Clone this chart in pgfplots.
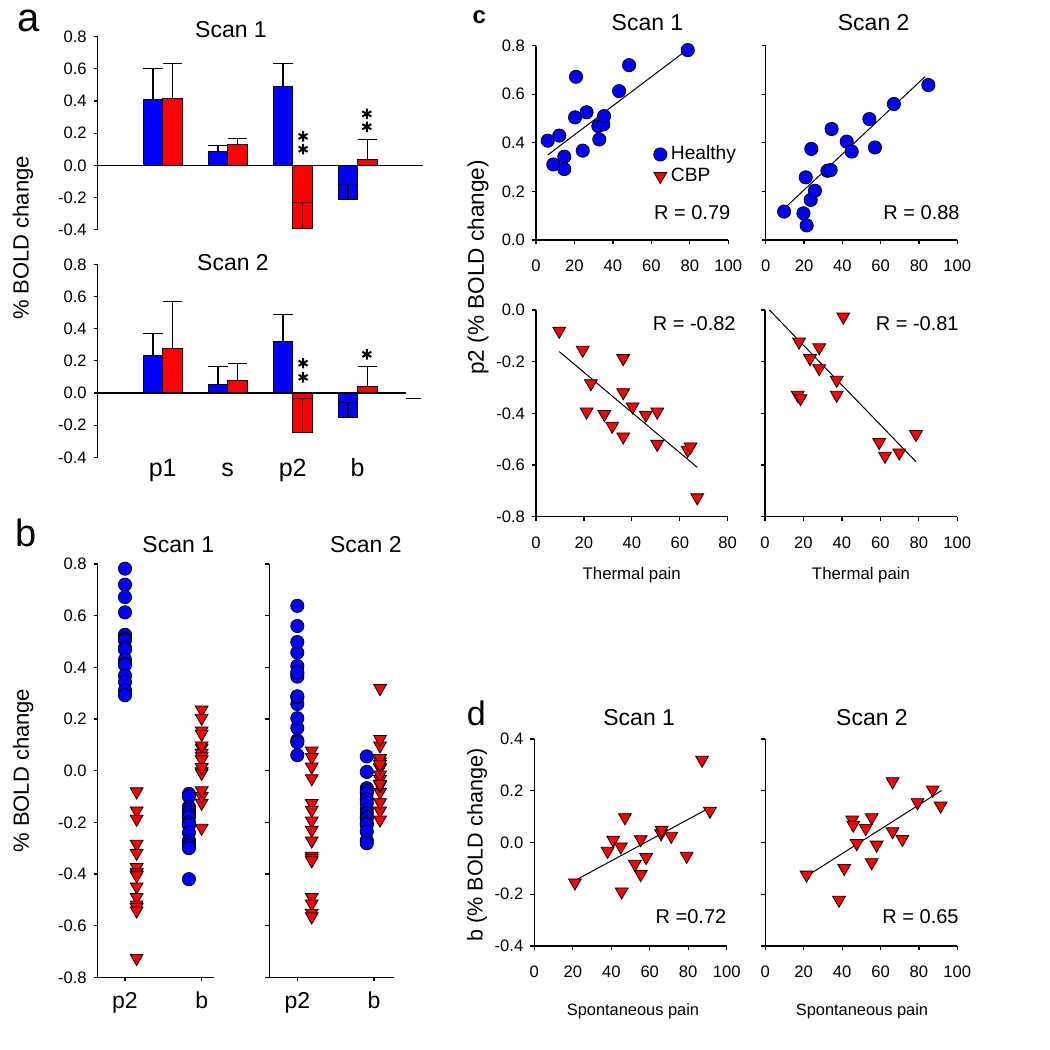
\documentclass[border=0pt]{standalone}
\usepackage{pgfplots}
\pgfplotsset{compat=1.18}
\usepackage{fontspec}
\setmainfont{Liberation Sans}
\definecolor{cblue}{RGB}{0,0,255}
\definecolor{cred}{RGB}{255,0,0}
\newcommand{\fs}[1]{\fontsize{#1}{#1}\selectfont}
\pgfkeys{/pgf/number format/assume math mode=true}
\pgfplotsset{
  base/.style={
    scale only axis, clip=false, anchor=south west,
    axis lines=left, axis line style={-, line width=0.6pt, black},
    tick align=outside, major tick length=2pt,
    major tick style={line width=0.6pt, black},
    tick label style={font=\fs{8.3}},
    /pgf/number format/assume math mode=true,
    yticklabel={\pgfmathprintnumber[fixed,fixed zerofill,precision=1]{\tick}},
    xticklabel style={anchor=base, yshift=-14pt},
  },
  hmark/.style={only marks, mark=*, mark size=3.3pt, mark options={fill=cblue, draw=black, line width=0.4pt}},
  cmark/.style={only marks, mark=triangle*, mark size=3.7pt, mark options={fill=cred, draw=black, line width=0.4pt, rotate=180}},
  regline/.style={black, line width=0.5pt, no marks},
  bar/.style={ybar, bar width=0.3, bar shift=0pt, fill=#1, draw=black, line width=0.4pt,
    error bars/.cd, y dir=plus, y explicit, error mark=|, error mark options={black, line width=0.6pt, mark size=4.9pt}, error bar style={black, line width=0.6pt}},
  stars/.style={only marks, mark=asterisk, mark size=2.6pt, mark options={black, line width=1pt}},
}
\begin{document}
\begin{tikzpicture}
\path[use as bounding box] (0pt,0pt) rectangle (525pt,525pt);

% ===================== Panel a, Scan 1 =====================
\begin{axis}[base, at={(48.85pt,410.2pt)}, width=162.5pt, height=96.45pt,
  xmin=0, xmax=5, ymin=-0.4, ymax=0.8, ytick={-0.4,-0.2,0,0.2,0.4,0.6,0.8},
  xtick=\empty, x axis line style={draw=none}]
\addplot[bar=cblue] coordinates {(0.85,0.41) +- (0,0.19) (1.85,0.085) +- (0,0.04) (2.85,0.49) +- (0,0.144) (3.85,-0.21) +- (0,0.092)};
\addplot[bar=cred] coordinates {(1.15,0.417) +- (0,0.217) (2.15,0.13) +- (0,0.038) (3.15,-0.394) +- (0,0.164) (4.15,0.037) +- (0,0.125)};
\addplot[black, line width=0.6pt, no marks] coordinates {(0,0) (5,0)};
\addplot[stars] coordinates {(3.16,0.18) (3.16,0.10) (4.14,0.32) (4.14,0.24)};
\end{axis}

% ===================== Panel a, Scan 2 =====================
\begin{axis}[base, at={(48.85pt,296.35pt)}, width=162.5pt, height=96.5pt,
  xmin=0, xmax=5, ymin=-0.4, ymax=0.8, ytick={-0.4,-0.2,0,0.2,0.4,0.6,0.8},
  xtick={1,2,3,4}, xticklabels={p1,s,p2,b}, major x tick style={draw=none},
  xticklabel style={font=\fs{12.5}, yshift=6.2pt},
  x axis line style={draw=none}]
\addplot[bar=cblue] coordinates {(0.85,0.233) +- (0,0.137) (1.85,0.052) +- (0,0.112) (2.85,0.32) +- (0,0.17) (3.85,-0.152) +- (0,0.094)};
\addplot[bar=cred] coordinates {(1.15,0.274) +- (0,0.297) (2.15,0.077) +- (0,0.108) (3.15,-0.247) +- (0,0.213) (4.15,0.039) +- (0,0.125)};
\addplot[black, line width=0.6pt, no marks] coordinates {(0,0) (4.74,0)};
\addplot[black, line width=0.6pt, no marks] coordinates {(4.75,-0.034) (4.98,-0.034)};
\addplot[stars] coordinates {(3.16,0.185) (3.16,0.097) (4.14,0.24)};
\end{axis}

% ===================== Panel b, Scan 1 =====================
\begin{axis}[base, at={(48.85pt,36.35pt)}, width=58.3pt, height=206.65pt,
  xmin=0.644, xmax=2.165, ymin=-0.8, ymax=0.8,
  ytick={-0.8,-0.6,-0.4,-0.2,0,0.2,0.4,0.6,0.8},
  xtick={1,2}, xticklabels={p2,b}, xticklabel style={font=\fs{11.5}, yshift=0.6pt}]
\addplot[hmark] coordinates {(1,0.782)(1,0.720)(1,0.672)(1,0.613)(1,0.526)(1,0.510)(1,0.505)(1,0.476)(1,0.469)(1,0.430)(1,0.414)(1,0.409)(1,0.368)(1,0.343)(1,0.311)(1,0.292)};
\addplot[cmark] coordinates {(1.152,-0.081)(1.152,-0.155)(1.152,-0.187)(1.152,-0.284)(1.152,-0.319)(1.152,-0.374)(1.152,-0.394)(1.152,-0.394)(1.152,-0.403)(1.152,-0.406)(1.152,-0.449)(1.152,-0.490)(1.152,-0.519)(1.152,-0.529)(1.152,-0.542)(1.152,-0.726)};
\addplot[hmark] coordinates {(1.834,-0.09)(1.834,-0.10)(1.834,-0.14)(1.834,-0.15)(1.834,-0.16)(1.834,-0.17)(1.834,-0.18)(1.834,-0.20)(1.834,-0.21)(1.834,-0.21)(1.834,-0.24)(1.834,-0.27)(1.834,-0.28)(1.834,-0.29)(1.834,-0.30)(1.834,-0.42)};
\addplot[cmark] coordinates {(2,-0.125)(2,-0.222)(2,-0.099)(2,0.088)(2,0.068)(2,-0.003)(2,0.055)(2,0.097)(2,-0.077)(2,-0.009)(2,0.236)(2,0.043)(2,0.013)(2,0.155)(2,0.204)(2,0.142)};
\end{axis}

% ===================== Panel b, Scan 2 =====================
\begin{axis}[base, at={(134.65pt,36.35pt)}, width=62.35pt, height=206.65pt,
  xmin=0.635, xmax=2.26, ymin=-0.8, ymax=0.8,
  ytick={-0.8,-0.6,-0.4,-0.2,0,0.2,0.4,0.6,0.8}, yticklabels={},
  xtick={1,2}, xticklabels={p2,b}, xticklabel style={font=\fs{11.5}, yshift=0.6pt}]
\addplot[hmark] coordinates {(1,0.117)(1,0.110)(1,0.060)(1,0.258)(1,0.165)(1,0.375)(1,0.203)(1,0.285)(1,0.288)(1,0.457)(1,0.405)(1,0.364)(1,0.498)(1,0.381)(1,0.560)(1,0.638)};
\addplot[cmark] coordinates {(1.188,0.077)(1.188,0.052)(1.188,0.015)(1.188,-0.03)(1.188,-0.126)(1.188,-0.152)(1.188,-0.194)(1.188,-0.23)(1.188,-0.271)(1.188,-0.330)(1.188,-0.339)(1.188,-0.348)(1.188,-0.490)(1.188,-0.515)(1.188,-0.551)(1.188,-0.565)};
\addplot[hmark] coordinates {(1.905,0.055)(1.905,-0.005)(1.905,-0.068)(1.905,-0.08)(1.905,-0.088)(1.905,-0.11)(1.905,-0.126)(1.905,-0.15)(1.905,-0.165)(1.905,-0.18)(1.905,-0.185)(1.905,-0.204)(1.905,-0.21)(1.905,-0.236)(1.905,-0.27)(1.905,-0.281)};
\addplot[cmark] coordinates {(2.078,-0.155)(2.078,-0.033)(2.078,0.010)(2.078,-0.016)(2.078,-0.190)(2.078,0.097)(2.078,-0.083)(2.078,0.012)(2.078,-0.123)(2.078,-0.057)(2.078,0.035)(2.078,0.048)(2.078,0.025)(2.078,-0.052)(2.078,0.319)(2.078,0.122)};
\end{axis}

% ===================== Panel c, top Scan 1 =====================
\begin{axis}[base, at={(268pt,405pt)}, width=96.15pt, height=97.15pt,
  xmin=0, xmax=100, ymin=0, ymax=0.8, xtick={0,20,40,60,80,100}, ytick={0,0.2,0.4,0.6,0.8},
  legend style={at={(axis cs:61,0.405)}, anchor=north west, draw=none, fill=none, inner sep=0pt,
    font=\fs{9.6}, row sep=-1.5pt, /tikz/every even column/.append style={column sep=1.5pt}},
  legend cell align=left,
  legend image code/.code={\draw[#1] plot coordinates {(0pt,0pt)};}]
\addplot[hmark] coordinates {(6.1,0.409)(9.0,0.311)(12.1,0.430)(14.7,0.343)(14.7,0.292)(20.3,0.505)(20.8,0.672)(24.3,0.368)(26.3,0.526)(32.4,0.469)(32.9,0.414)(35.0,0.476)(35.4,0.510)(43.2,0.613)(48.4,0.720)(78.9,0.782)};
\addlegendentry{Healthy}
\addlegendimage{cmark}
\addlegendentry{CBP}
\addplot[regline, forget plot] coordinates {(6.1,0.350)(78.9,0.785)};
\end{axis}

% ===================== Panel c, top Scan 2 =====================
\begin{axis}[base, at={(382.85pt,405pt)}, width=95.8pt, height=97.15pt,
  xmin=0, xmax=100, ymin=0, ymax=0.8, xtick={0,20,40,60,80,100}, ytick={0,0.2,0.4,0.6,0.8}, yticklabels={}]
\addplot[hmark] coordinates {(9.6,0.117)(19.7,0.110)(21.4,0.060)(20.9,0.258)(23.5,0.165)(23.8,0.375)(25.7,0.203)(32.2,0.285)(33.9,0.288)(34.4,0.457)(42.3,0.405)(44.9,0.364)(54.1,0.498)(57.0,0.381)(66.9,0.560)(84.9,0.638)};
\addplot[regline] coordinates {(9.2,0.126)(83.1,0.672)};
\end{axis}

% ===================== Panel c, bottom Scan 1 =====================
\begin{axis}[base, at={(268pt,266.65pt)}, width=95.85pt, height=103.35pt,
  xmin=0, xmax=80, ymin=-0.8, ymax=0, xtick={0,20,40,60,80}, ytick={-0.8,-0.6,-0.4,-0.2,0}]
\addplot[cmark] coordinates {(9.7,-0.081)(19.5,-0.155)(21.1,-0.394)(22.9,-0.284)(28.5,-0.403)(31.8,-0.449)(36.4,-0.187)(36.4,-0.319)(36.4,-0.490)(40.3,-0.374)(45.8,-0.406)(50.6,-0.394)(50.6,-0.519)(63.3,-0.542)(64.5,-0.529)(67.3,-0.726)};
\addplot[regline] coordinates {(9.7,-0.161)(67.3,-0.609)};
\end{axis}

% ===================== Panel c, bottom Scan 2 =====================
\begin{axis}[base, at={(382.5pt,266.65pt)}, width=96.15pt, height=103.35pt,
  xmin=0, xmax=100, ymin=-0.8, ymax=0, xtick={0,20,40,60,80,100}, ytick={-0.8,-0.6,-0.4,-0.2,0}, yticklabels={}]
\addplot[cmark] coordinates {(17.7,-0.123)(17.0,-0.329)(18.5,-0.342)(23.4,-0.187)(28.2,-0.145)(28.2,-0.226)(37.3,-0.271)(37.3,-0.329)(40.7,-0.026)(59.4,-0.512)(62.4,-0.565)(69.8,-0.552)(78.5,-0.481)};
\addplot[regline] coordinates {(2.3,0.0)(78.5,-0.587)};
\end{axis}

% ===================== Panel d, Scan 1 =====================
\begin{axis}[base, at={(267.15pt,52pt)}, width=96.2pt, height=103.5pt,
  xmin=0, xmax=100, ymin=-0.4, ymax=0.4, xtick={0,20,40,60,80,100}, ytick={-0.4,-0.2,0,0.2,0.4}]
\addplot[cmark] coordinates {(21.1,-0.155)(38.1,-0.033)(41.0,0.010)(45.0,-0.016)(45.4,-0.190)(47.1,0.097)(52.3,-0.083)(55.3,0.012)(55.3,-0.123)(58.1,-0.057)(65.9,0.035)(66.2,0.048)(71.2,0.025)(79.2,-0.052)(87.2,0.319)(91.3,0.122)};
\addplot[regline] coordinates {(21.1,-0.147)(91.3,0.135)};
\end{axis}

% ===================== Panel d, Scan 2 =====================
\begin{axis}[base, at={(382.65pt,52pt)}, width=96pt, height=103.5pt,
  xmin=0, xmax=100, ymin=-0.4, ymax=0.4, xtick={0,20,40,60,80,100}, ytick={-0.4,-0.2,0,0.2,0.4}, yticklabels={}]
\addplot[cmark] coordinates {(21.5,-0.125)(38.4,-0.222)(41.1,-0.099)(45.3,0.088)(45.8,0.068)(47.6,-0.003)(52.3,0.055)(55.4,0.097)(55.4,-0.077)(58.0,-0.009)(66.3,0.236)(66.3,0.043)(71.4,0.013)(79.3,0.155)(87.2,0.204)(91.3,0.142)};
\addplot[regline] coordinates {(20.7,-0.134)(91.8,0.201)};
\end{axis}

% ===================== Text =====================
\node[font=\fs{20}] at (14.15pt,514.6pt) {a};
\node[font=\fs{19}] at (12.9pt,258.75pt) {b};
\node[font=\fs{12}\bfseries] at (239.6pt,516.25pt) {c};
\node[font=\fs{17}] at (238.15pt,168.1pt) {d};

\node[font=\fs{11.5}, anchor=base] at (115.5pt,506.25pt) {Scan 1};
\node[font=\fs{11.5}, anchor=base] at (116.5pt,389.5pt) {Scan 2};
\node[font=\fs{11.5}, anchor=base] at (89.15pt,248.65pt) {Scan 1};
\node[font=\fs{11.5}, anchor=base] at (182.9pt,248.65pt) {Scan 2};
\node[font=\fs{11.5}, anchor=base] at (323.75pt,509.5pt) {Scan 1};
\node[font=\fs{11.5}, anchor=base] at (436.85pt,509.5pt) {Scan 2};
\node[font=\fs{11.5}, anchor=base] at (319.6pt,162pt) {Scan 1};
\node[font=\fs{11.5}, anchor=base] at (436pt,162pt) {Scan 2};

\node[font=\fs{11}, rotate=90] at (11.5pt,406pt) {\% BOLD change};
\node[font=\fs{11}, rotate=90] at (11.65pt,139.65pt) {\% BOLD change};
\node[font=\fs{11.3}, rotate=90] at (239pt,391.25pt) {p2 (\% BOLD change)};
\node[font=\fs{10.8}, rotate=90] at (238.5pt,102.5pt) {b (\% BOLD change)};

\node[font=\fs{10}, anchor=base east, inner sep=0pt] at (365.35pt,415pt) {R = 0.79};
\node[font=\fs{10}, anchor=base east, inner sep=0pt] at (480pt,415pt) {R = 0.88};
\node[font=\fs{10}, anchor=base east, inner sep=0pt] at (368pt,359.65pt) {R = -0.82};
\node[font=\fs{10}, anchor=base east, inner sep=0pt] at (479.5pt,359.65pt) {R = -0.81};
\node[font=\fs{10}, anchor=base east, inner sep=0pt] at (363.35pt,63.35pt) {R =0.72};
\node[font=\fs{10}, anchor=base east, inner sep=0pt] at (479.5pt,63.35pt) {R = 0.65};

\node[font=\fs{8.4}, anchor=base] at (315.85pt,235pt) {Thermal pain};
\node[font=\fs{8.4}, anchor=base] at (430.5pt,235pt) {Thermal pain};
\node[font=\fs{8.2}, anchor=base] at (316.5pt,17pt) {Spontaneous pain};
\node[font=\fs{8.2}, anchor=base] at (431pt,17pt) {Spontaneous pain};
\end{tikzpicture}
\end{document}
